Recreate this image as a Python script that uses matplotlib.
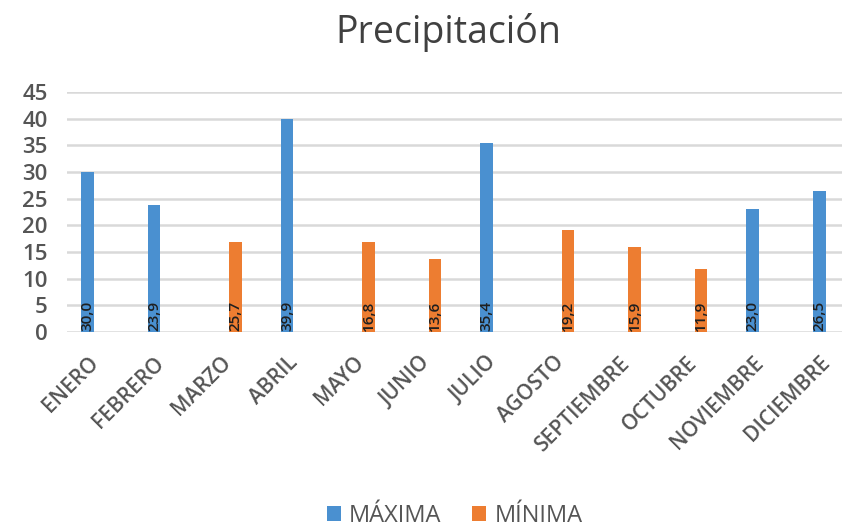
import numpy as np
import matplotlib
matplotlib.use("Agg")
import matplotlib.pyplot as plt
from matplotlib.transforms import ScaledTranslation

plt.rcParams['font.family'] = ['Open Sans', 'DejaVu Sans']

meses = ["ENERO", "FEBRERO", "MARZO", "ABRIL", "MAYO", "JUNIO", "JULIO",
         "AGOSTO", "SEPTIEMBRE", "OCTUBRE", "NOVIEMBRE", "DICIEMBRE"]
maxima = [30.0, 23.9, np.nan, 39.9, np.nan, np.nan, 35.4, np.nan, np.nan, np.nan, 23.0, 26.5]
minima = [np.nan, np.nan, 16.8, np.nan, 16.8, 13.6, np.nan, 19.2, 15.9, 11.9, np.nan, np.nan]
etiquetas = ["30,0", "23,9", "25,7", "39,9", "16,8", "13,6", "35,4",
             "19,2", "15,9", "11,9", "23,0", "26,5"]

azul = '#4a90d0'
naranja = '#ed7d31'
gris = '#555555'

fig = plt.figure(figsize=(8.42, 5.31), dpi=100)
ax = fig.add_axes([0.0796, 0.3748, 0.9204, 0.4520])

x = np.arange(len(meses))
w = 0.19
off = 0.113
b1 = ax.bar(x - off, maxima, width=w, color=azul, label='MÁXIMA', zorder=3)
b2 = ax.bar(x + off, minima, width=w, color=naranja, label='MÍNIMA', zorder=3)

# labels inside bars at the base
for i, t in enumerate(etiquetas):
    xp = x[i] - off if not np.isnan(maxima[i]) else x[i] + off
    ax.text(xp, 0.2, t, rotation=90, ha='center', va='bottom',
            fontsize=11, color='#1f1f1f', fontweight='semibold', zorder=4)

ax.set_ylim(0, 45)
ax.set_yticks(range(0, 46, 5))
ax.set_xlim(-0.42, 11.23)
ax.set_xticks(x)
ax.set_xticklabels(meses, rotation=45, ha='right', va='center',
                   rotation_mode='anchor', fontsize=15, color=gris,
                   fontweight='semibold')
dx = ScaledTranslation(24 / 100, 0, fig.dpi_scale_trans)
for lab in ax.get_xticklabels():
    lab.set_transform(lab.get_transform() + dx)
ax.tick_params(axis='x', length=0, pad=20)
ax.tick_params(axis='y', length=0, pad=14, labelsize=16, labelcolor=gris)
for lab in ax.get_yticklabels():
    lab.set_fontweight('semibold')
ax.grid(axis='y', color='#d9d9d9', linewidth=1.8, zorder=0)
for s in ax.spines.values():
    s.set_visible(False)

fig.text(0.533, 0.938, 'Precipitación', ha='center', va='center',
         fontsize=27, color='#404040')

fig.legend(handles=[b1, b2], loc='center', bbox_to_anchor=(0.54, 0.028),
           ncol=2, frameon=False, fontsize=17, handlelength=0.6,
           handleheight=0.6, handletextpad=0.35, columnspacing=1.3,
           labelcolor=gris)

fig.savefig('out.png', dpi=100)
